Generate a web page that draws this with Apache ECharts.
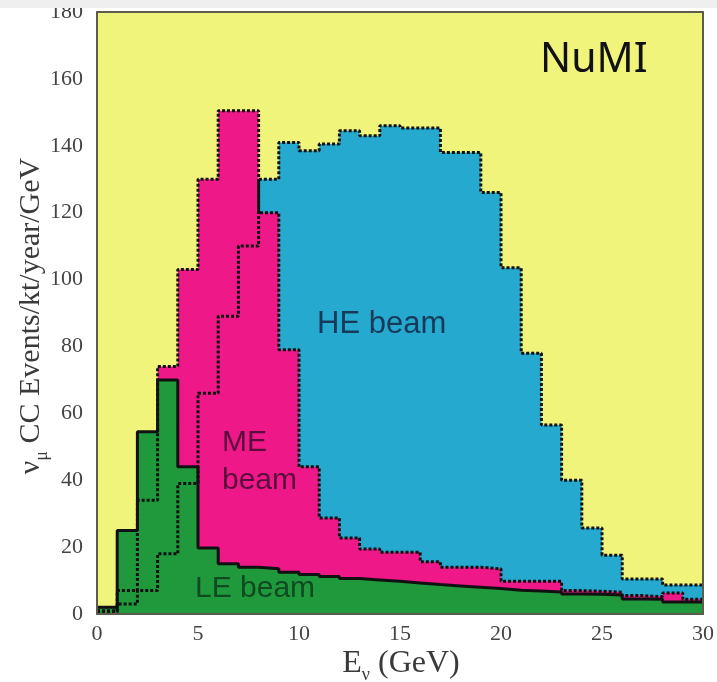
<!DOCTYPE html>
<html>
<head>
<meta charset="utf-8">
<script src="https://cdn.jsdelivr.net/npm/echarts@6/dist/echarts.min.js"></script>
<style>
  html, body { margin: 0; padding: 0; background: #ffffff; }
  #chart { width: 717px; height: 682px; }
</style>
</head>
<body>
<div id="chart"></div>
<script>
// Neutrino energy bins: 1 GeV wide, left edges 0..29
const binEdges = [0, 1, 2, 3, 4, 5, 6, 7, 8, 9, 10, 11, 12, 13, 14, 15, 16, 17, 18, 19, 20, 21, 22, 23, 24, 25, 26, 27, 28, 29, 30];

// νμ CC events / kt / year / GeV for the three NuMI beam tunes
const heBeam = [0.5, 3, 7, 18, 39, 66, 89, 110, 130, 141, 138.5, 140.5, 144.5, 143, 146, 145.3, 145.3, 138, 138, 126, 103.5, 78, 56.5, 40, 25.7, 17.6, 10.5, 10.5, 8.7, 8.7];
const meBeam = [1, 7, 34, 74, 103, 130, 150.5, 150.5, 120, 79, 44, 28.7, 22.7, 19.4, 18.5, 18.5, 15.6, 14, 14, 13.5, 9.8, 9.8, 9.8, 7, 6.8, 6.5, 5.5, 5.2, 6.3, 4.4];
const leBeam = [2, 25, 54.5, 70, 44, 19.7, 15, 14, 13.5, 12.5, 11.8, 11.2, 10.6, 10.2, 9.8, 9.3, 8.8, 8.4, 8, 7.6, 7.1, 6.9, 6.6, 6, 5.9, 5.7, 4.5, 4.4, 3.6, 3.6];

const xTicks = [0, 5, 10, 15, 20, 25, 30];
const yTicks = [0, 20, 40, 60, 80, 100, 120, 140, 160, 180];

const colors = {
  plotBg: '#f1f47a',
  he: '#25a9cf',
  me: '#ee1889',
  le: '#1f993c',
  frame: '#5d5b4c',
  text: '#444444'
};

// histogram contents -> step-line points at each bin's left edge, closed at the last edge
function toSteps(values) {
  const pts = values.map((v, i) => [binEdges[i], v]);
  pts.push([binEdges[values.length], values[values.length - 1]]);
  return pts;
}

function fillSeries(name, values, color) {
  return {
    name: name, type: 'line', step: 'end', symbol: 'none', silent: true,
    data: toSteps(values),
    lineStyle: { width: 0, opacity: 0 },
    areaStyle: { color: color, opacity: 1 },
    z: 2
  };
}

function outlineSeries(name, values, dash, width) {
  return {
    name: name, type: 'line', step: 'end', symbol: 'none', silent: true,
    data: toSteps(values),
    lineStyle: { color: '#111111', width: width, type: dash, cap: 'butt' },
    z: 3
  };
}

const chart = echarts.init(document.getElementById('chart'), null, { renderer: 'canvas' });

const serif = 'Liberation Serif';
const sans = 'Liberation Sans';

chart.setOption({
  animation: false,
  backgroundColor: '#ffffff',
  grid: {
    left: 97, right: 12, top: 12, bottom: 68,
    show: true, backgroundColor: colors.plotBg, borderWidth: 0
  },
  xAxis: [
    {
      type: 'value', min: xTicks[0], max: xTicks[xTicks.length - 1], interval: 5,
      z: 6,
      axisLine: { show: true, onZero: false, lineStyle: { color: colors.frame, width: 2 } },
      axisTick: { show: false },
      splitLine: { show: false },
      axisLabel: { fontFamily: serif, fontSize: 22, color: colors.text, margin: 9 }
    },
    {
      type: 'value', position: 'top', min: 0, max: 30, z: 6,
      axisLine: { show: true, onZero: false, lineStyle: { color: colors.frame, width: 2 } },
      axisTick: { show: false }, axisLabel: { show: false }, splitLine: { show: false }
    }
  ],
  yAxis: [
    {
      type: 'value', min: yTicks[0], max: yTicks[yTicks.length - 1], interval: 20,
      z: 6,
      axisLine: { show: true, onZero: false, lineStyle: { color: colors.frame, width: 2 } },
      axisTick: { show: false },
      splitLine: { show: false },
      axisLabel: { fontFamily: serif, fontSize: 22, color: colors.text, margin: 14 }
    },
    {
      type: 'value', position: 'right', min: 0, max: 180, z: 6,
      axisLine: { show: true, onZero: false, lineStyle: { color: colors.frame, width: 2 } },
      axisTick: { show: false }, axisLabel: { show: false }, splitLine: { show: false }
    }
  ],
  series: [
    fillSeries('HE fill', heBeam, colors.he),
    fillSeries('ME fill', meBeam, colors.me),
    fillSeries('LE fill', leBeam, colors.le),
    outlineSeries('LE beam', leBeam, 'solid', 3),
    outlineSeries('ME beam', meBeam, [3, 2], 3),
    outlineSeries('HE beam', heBeam, [3, 2], 3)
  ],
  graphic: [
    {
      type: 'text', x: 31, y: 316, rotation: Math.PI / 2, z: 10,
      style: {
        text: '{a|ν}{s|μ}{a| CC Events/kt/year/GeV}',
        align: 'center', verticalAlign: 'middle',
        rich: {
          a: { fontFamily: serif, fontSize: 30, lineHeight: 40, verticalAlign: 'middle', fill: '#3a3a3a' },
          s: { fontFamily: serif, fontSize: 18, lineHeight: 18, verticalAlign: 'bottom', fill: '#3a3a3a' }
        }
      }
    },
    {
      type: 'text', x: 401, y: 664, z: 10,
      style: {
        text: '{a|E}{s|ν}{a| (GeV)}',
        align: 'center', verticalAlign: 'middle',
        rich: {
          a: { fontFamily: serif, fontSize: 32, lineHeight: 40, verticalAlign: 'middle', fill: '#3a3a3a' },
          s: { fontFamily: serif, fontSize: 18, lineHeight: 18, verticalAlign: 'bottom', fill: '#3a3a3a' }
        }
      }
    },
    {
      type: 'text', x: 540, y: 60, z: 10,
      style: { text: 'NuMI', fontFamily: 'Noto Sans', fontSize: 41, fill: '#111111', align: 'left', verticalAlign: 'middle' }
    },
    {
      type: 'text', x: 317, y: 324, z: 10,
      style: { text: 'HE beam', fontFamily: sans, fontSize: 31, fill: '#173a5a', align: 'left', verticalAlign: 'middle' }
    },
    {
      type: 'text', x: 222, y: 443, z: 10,
      style: { text: 'ME', fontFamily: sans, fontSize: 30, fill: '#5a0d3c', align: 'left', verticalAlign: 'middle' }
    },
    {
      type: 'text', x: 222, y: 481, z: 10,
      style: { text: 'beam', fontFamily: sans, fontSize: 30, fill: '#5a0d3c', align: 'left', verticalAlign: 'middle' }
    },
    {
      type: 'text', x: 195, y: 589, z: 10,
      style: { text: 'LE beam', fontFamily: sans, fontSize: 30, fill: '#0f4a20', align: 'left', verticalAlign: 'middle' }
    },
    {
      type: 'rect', z: 20,
      shape: { x: 0, y: 0, width: 717, height: 8 },
      style: { fill: '#efefef' }
    }
  ]
});
</script>
</body>
</html>
